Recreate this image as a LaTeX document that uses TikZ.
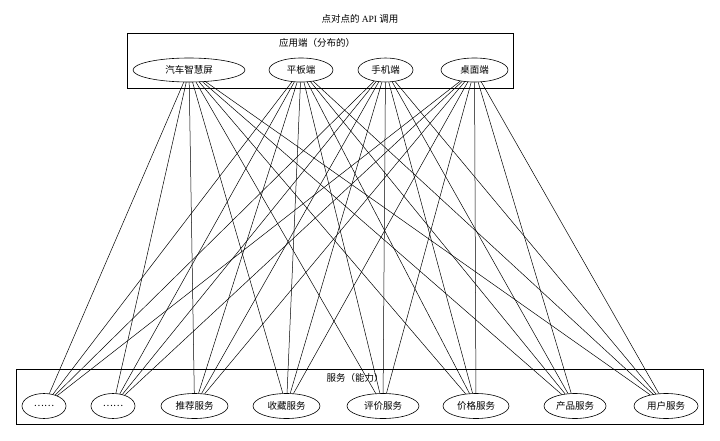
\documentclass[tikz,border=0pt]{standalone}
\usepackage{fontspec}
\setmainfont{Liberation Serif}
\newfontfamily\cjk{Noto Sans CJK SC}
\usetikzlibrary{shapes.geometric}
\tikzset{
  box/.style={draw, line width=0.6pt, inner sep=0pt},
  blob/.style={draw, ellipse, inner sep=0pt, line width=0.6pt, minimum height=25pt},
  txt/.style={font=\cjk\fontsize{9.5}{10}\selectfont},
  link/.style={line width=0.5pt}
}
\begin{document}
\begin{tikzpicture}[x=1pt, y=-1pt, txt]
\useasboundingbox (0,0) rectangle (720,441);
% title and the two groups
\node (title) at (360,19) {\cjk 点对点的 {\rmfamily API} 调用};
\node[box, minimum width=386pt, minimum height=55pt] (apps) at (320,60.5) {};
\node (appslabel) at (317,43) {应用端（分布的）};
\node[box, minimum width=687pt, minimum height=55pt] (svcs) at (359.5,396.5) {};
\node (svcslabel) at (355,378) {服务（能力）};
% clients
\node[blob, minimum width=112pt, minimum height=24pt] (car) at (189,70) {汽车智慧屏};
\node[blob, minimum width=64pt, minimum height=24pt] (pad) at (301,70) {平板端};
\node[blob, minimum width=55pt, minimum height=24pt] (phone) at (385.5,70) {手机端};
\node[blob, minimum width=67pt, minimum height=24pt] (desk) at (474.5,70) {桌面端};
% services
\node[blob, minimum width=44pt] (more1) at (44,406) {……};
\node[blob, minimum width=44pt] (more2) at (113,406) {……};
\node[blob, minimum width=67pt] (rec) at (194.5,406) {推荐服务};
\node[blob, minimum width=67pt] (fav) at (286.5,406) {收藏服务};
\node[blob, minimum width=72pt] (rate) at (383,406) {评价服务};
\node[blob, minimum width=66pt] (price) at (476,406) {价格服务};
\node[blob, minimum width=62pt] (prod) at (575,406) {产品服务};
\node[blob, minimum width=64pt] (user) at (666,406) {用户服务};
% every client calls every service
\foreach \a in {car,pad,phone,desk}{
    \foreach \b in {more1,more2,rec,fav,rate,price,prod,user}{
        \draw[link] (\a) -- (\b);
    }
}
\end{tikzpicture}
\end{document}
